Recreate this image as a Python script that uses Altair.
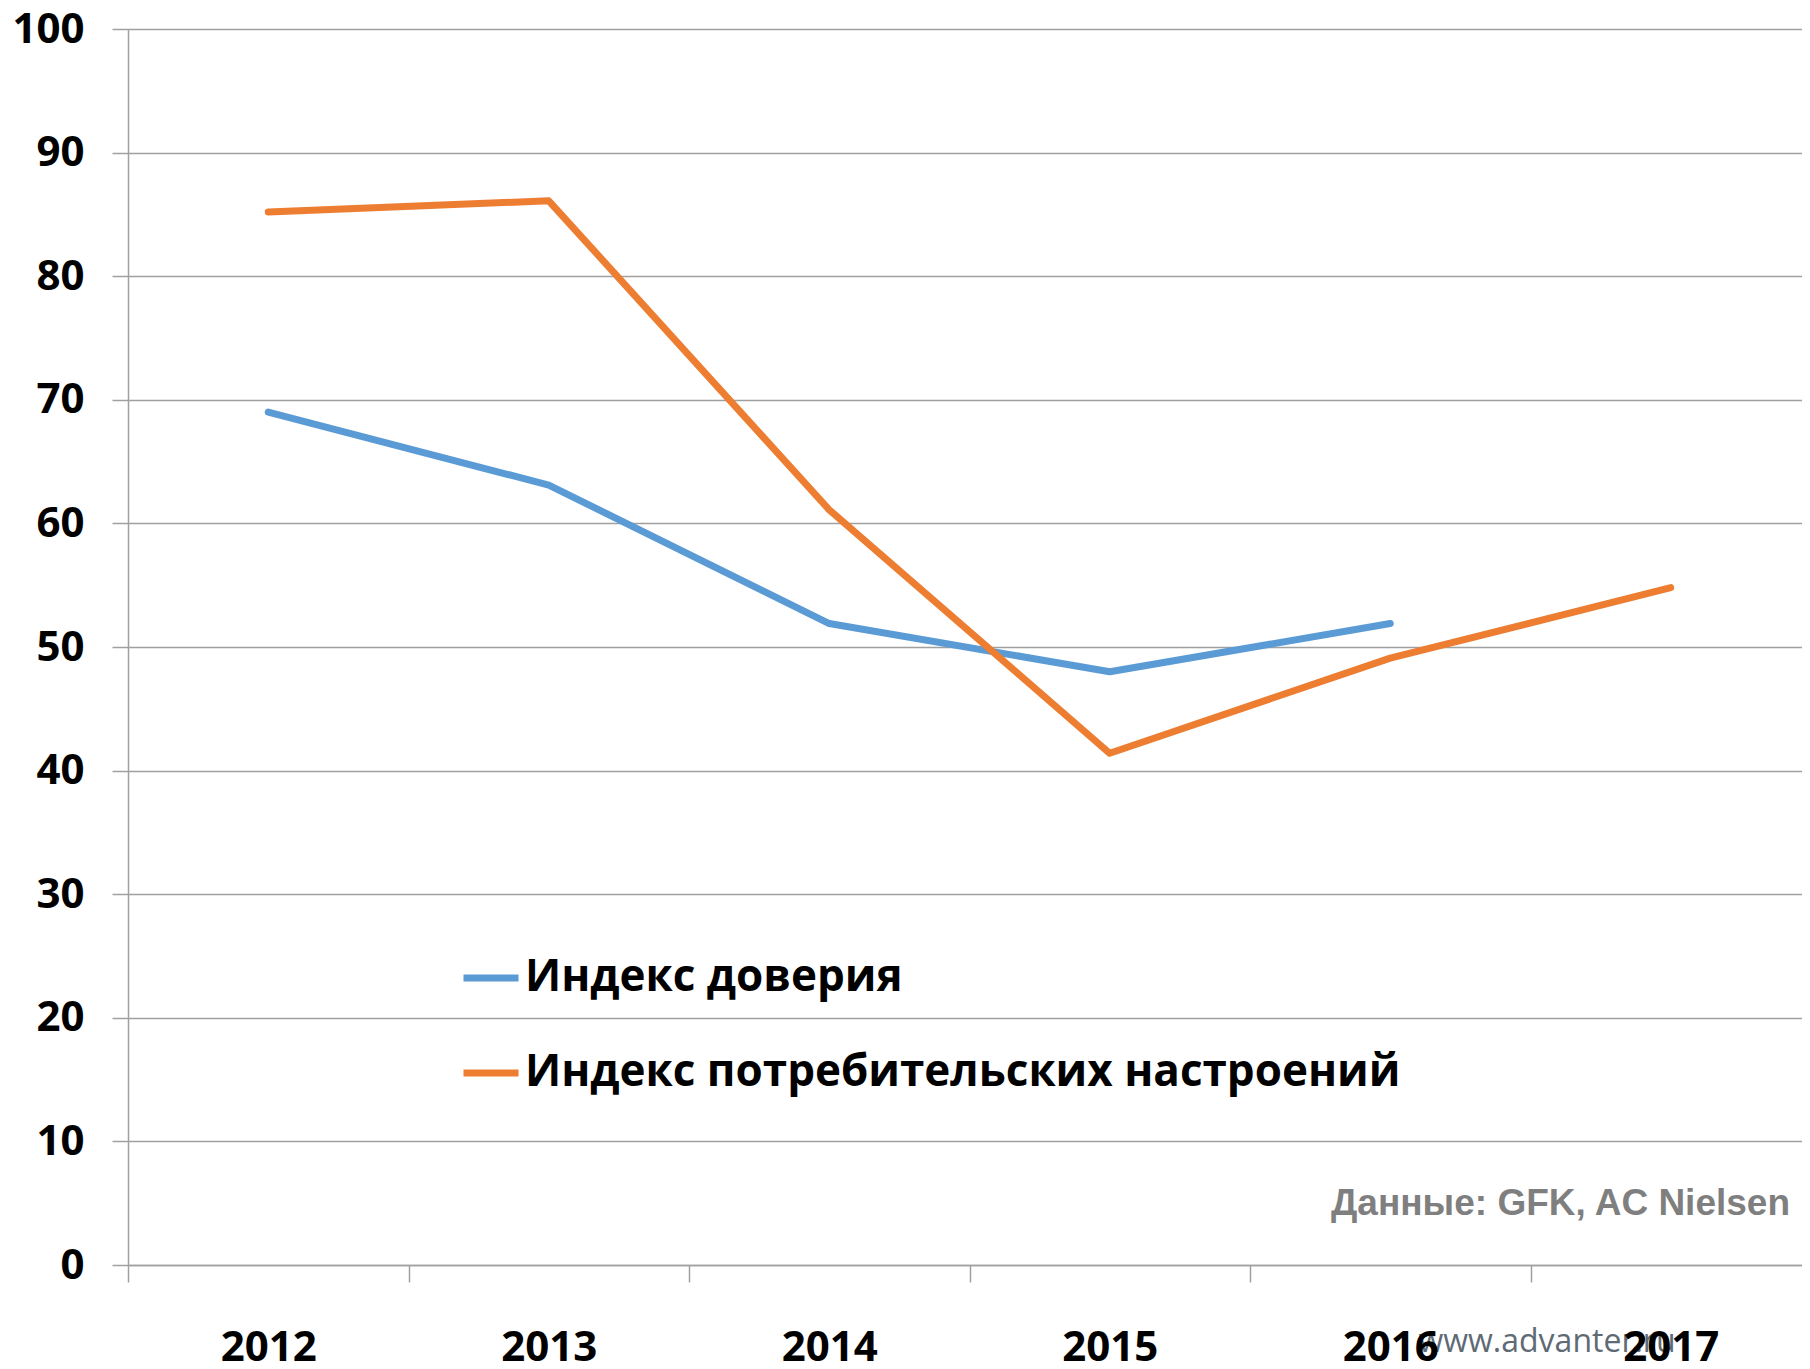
import altair as alt
import pandas as pd

years = ["2012", "2013", "2014", "2015", "2016", "2017"]
trust = [69.0, 63.1, 51.9, 48.0, 51.9, None]
sentiment = [85.2, 86.1, 61.1, 41.4, 49.1, 54.8]
series_names = ["Индекс доверия", "Индекс потребительских настроений"]
series_colors = ["#5B9BD5", "#ED7D31"]
y_ticks = list(range(0, 101, 10))
source_text = "Данные: GFK, AC Nielsen"
watermark = "www.advanter.ru"

rows = []
for i, y in enumerate(years):
    if trust[i] is not None:
        rows.append({"year": y, "series": series_names[0], "value": trust[i]})
    if sentiment[i] is not None:
        rows.append({"year": y, "series": series_names[1], "value": sentiment[i]})
df = pd.DataFrame(rows)

FONT = "Open Sans"
W, H = 1674, 1236

x_enc = alt.X(
    "year:O",
    bandPosition=0.5,
    scale=alt.Scale(type="band", domain=years, range=[0, 1683], paddingInner=0, paddingOuter=0),
    axis=alt.Axis(
        title=None, labelAngle=0, tickBand="extent", tickSize=17, tickColor="#A0A0A0",
        tickWidth=1.5, domainColor="#A0A0A0", domainWidth=1.5, labelFont=FONT,
        labelFontSize=42, labelFontWeight="bold", labelColor="#000000",
        labelBaseline="middle", labelPadding=65, grid=False, zindex=1,
    ),
)
y_enc = alt.Y(
    "value:Q",
    scale=alt.Scale(domain=[0, 100], nice=False, zero=True),
    axis=alt.Axis(
        title=None, values=y_ticks, tickSize=16, tickColor="#A0A0A0", tickWidth=1.5,
        domainColor="#A0A0A0", domainWidth=1.5, gridColor="#A0A0A0", gridWidth=1.5,
        labelFont=FONT, labelFontSize=42, labelFontWeight="bold", labelColor="#000000",
        labelPadding=28, labelBaseline="middle",
    ),
)

lines = alt.Chart(df).mark_line(strokeWidth=7, strokeCap="round", strokeJoin="round").encode(
    x=x_enc,
    y=y_enc,
    color=alt.Color(
        "series:N",
        scale=alt.Scale(domain=series_names, range=series_colors),
        sort=series_names,
        legend=alt.Legend(
            title=None, orient="none", legendX=332, legendY=918, symbolType="stroke",
            symbolSize=3025, symbolStrokeWidth=7, labelFont=FONT, labelFontSize=44,
            labelFontWeight="bold", labelColor="#000000", labelOffset=3, rowPadding=42,
            labelLimit=2000,
        ),
    ),
)

src = alt.Chart(pd.DataFrame({"t": [source_text]})).mark_text(
    font="Liberation Sans", fontSize=37, fontWeight="bold", color="#7F7F7F",
    align="right", baseline="middle",
).encode(x=alt.value(1662), y=alt.value(1175), text="t:N")

wm = alt.Chart(pd.DataFrame({"t": [watermark]})).mark_text(
    font="Open Sans", fontSize=32, color="#5E6A74", align="center", baseline="middle",
).encode(x=alt.value(1419), y=alt.value(1313), text="t:N")

chart = alt.layer(lines, src, wm).properties(
    width=W, height=H,
    autosize=alt.AutoSizeParams(type="none"),
    padding={"left": 120, "top": 21, "right": 0, "bottom": 96},
).configure_view(stroke=None).configure(background="#FFFFFF")

chart.save("out.html", embed_options={"renderer": "svg", "actions": False})
